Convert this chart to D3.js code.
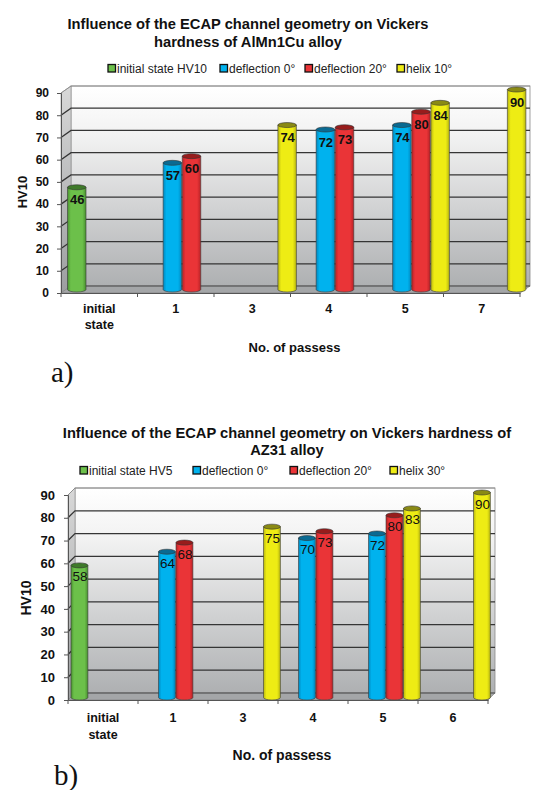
<!DOCTYPE html>
<html><head><meta charset="utf-8">
<script src="https://cdn.jsdelivr.net/npm/d3@7"></script>
<style>
html,body{margin:0;padding:0;background:#fff;}
svg{display:block;font-family:"Liberation Sans",Arial,sans-serif;}
</style></head>
<body><svg id="c" width="559" height="790"></svg>
<script>
// ---------- data ----------
const seriesA = ["initial state HV10", "deflection 0°", "deflection 20°", "helix 10°"];
const catsA = ["initial state", "1", "3", "4", "5", "7"];
const initialA = [46, null, null, null, null, null];
const defl0A   = [null, 57, null, 72, 74, null];
const defl20A  = [null, 60, null, 73, 80, null];
const helixA   = [null, null, 74, null, 84, 90];

const seriesB = ["initial state HV5", "deflection 0°", "deflection 20°", "helix 30°"];
const catsB = ["initial state", "1", "3", "4", "5", "6"];
const initialB = [58, null, null, null, null, null];
const defl0B   = [null, 64, null, 70, 72, null];
const defl20B  = [null, 68, null, 73, 80, null];
const helixB   = [null, null, 75, null, 83, 90];

const yTicks = [0, 10, 20, 30, 40, 50, 60, 70, 80, 90];
const titleA = ["Influence of the ECAP channel geometry on Vickers", "hardness of AlMn1Cu alloy"];
const titleB = ["Influence of the ECAP channel geometry on Vickers hardness of", "AZ31 alloy"];
const yTitle = "HV10";
const xTitle = "No. of passess";

// ---------- styles ----------
const fills = ["#6cc04a", "#00b2ee", "#ea3437", "#eeec14"];
const edges = ["#4a9230", "#0088c0", "#b82226", "#b8b610"];
const tops  = ["#3f7a2a", "#0a6a92", "#981c1c", "#8a8a14"];

const svg = d3.select("#c");
const defs = svg.append("defs");

fills.forEach((c, i) => {
  const g = defs.append("linearGradient").attr("id", "cyl" + i).attr("x1", 0).attr("x2", 1).attr("y1", 0).attr("y2", 0);
  g.append("stop").attr("offset", 0).attr("stop-color", edges[i]);
  g.append("stop").attr("offset", 0.18).attr("stop-color", fills[i]);
  g.append("stop").attr("offset", 0.8).attr("stop-color", fills[i]);
  g.append("stop").attr("offset", 1).attr("stop-color", edges[i]);
});
const wg = defs.append("linearGradient").attr("id", "wall").attr("x1", 0).attr("x2", 0).attr("y1", 0).attr("y2", 1);
wg.append("stop").attr("offset", 0).attr("stop-color", "#ffffff");
wg.append("stop").attr("offset", 0.25).attr("stop-color", "#f2f2f2");
wg.append("stop").attr("offset", 1).attr("stop-color", "#aeb0b2");
const sg = defs.append("linearGradient").attr("id", "side").attr("x1", 0).attr("x2", 0).attr("y1", 0).attr("y2", 1);
sg.append("stop").attr("offset", 0).attr("stop-color", "#d8d8d8");
sg.append("stop").attr("offset", 1).attr("stop-color", "#9c9ea0");

function drawChart(cfg) {
  const g = svg.append("g");
  const values = cfg.values;
  const x = d3.scaleBand().domain(cfg.cats).range([cfg.x0, cfg.x1]).padding(0);
  const xs = d3.scaleBand().domain(cfg.series).range([0, x.bandwidth()]).padding(0);
  const y = d3.scaleLinear().domain([0, 90]).range([cfg.y0, cfg.y90]);
  const dx = cfg.dx, dy = cfg.dy;

  // title
  cfg.title.forEach((t, i) => {
    g.append("text").attr("x", cfg.titleX).attr("y", cfg.titleY + i * cfg.titleLH)
      .attr("text-anchor", "middle").attr("font-weight", "bold").attr("font-size", cfg.titleFS)
      .attr("fill", "#111").text(t);
  });
  // legend
  cfg.series.forEach((s, i) => {
    const lx = cfg.legendX[i];
    g.append("rect").attr("x", lx).attr("y", cfg.legendY - 4.5).attr("width", 7.5).attr("height", 7.5)
      .attr("fill", fills[i]).attr("stroke", "#111").attr("stroke-width", 1.3);
    g.append("text").attr("x", lx + 9).attr("y", cfg.legendY + 4.2).attr("font-size", cfg.legendFS)
      .attr("fill", "#222").text(s);
  });

  const bx0 = cfg.x0 + dx, bx1 = cfg.x1 + dx;
  // back wall
  g.append("rect").attr("x", bx0).attr("y", y(90) - dy).attr("width", bx1 - bx0).attr("height", y(0) - y(90))
    .attr("fill", "url(#wall)").attr("stroke", "#8a8a8a").attr("stroke-width", 0.8);
  // side wall
  g.append("path").attr("d", `M${cfg.x0},${y(90)}L${bx0},${y(90) - dy}L${bx0},${y(0) - dy}L${cfg.x0},${y(0)}Z`)
    .attr("fill", "url(#side)").attr("stroke", "#8a8a8a").attr("stroke-width", 0.6);
  // floor
  g.append("path").attr("d", `M${cfg.x0},${y(0)}L${bx0},${y(0) - dy}L${bx1},${y(0) - dy}L${cfg.x1},${y(0)}Z`)
    .attr("fill", "#a4a6a8").attr("stroke", "#7a7a7a").attr("stroke-width", 0.6);
  // gridlines
  yTicks.forEach(v => {
    if (v === 0) return;
    const top = v === 90;
    g.append("path").attr("d", `M${cfg.x0},${y(v)}L${bx0},${y(v) - dy}L${bx1},${y(v) - dy}`)
      .attr("fill", "none").attr("stroke", top ? "#8a8a8a" : "#353535").attr("stroke-width", top ? 0.9 : 1.3);
  });
  g.append("line").attr("x1", bx0).attr("x2", bx1).attr("y1", y(0) - dy).attr("y2", y(0) - dy)
    .attr("stroke", "#505050").attr("stroke-width", 1);

  // bars
  const ry = cfg.ry;
  cfg.series.forEach((s, si) => {
    values[si].forEach((v, ci) => {
      if (v == null) return;
      const bxL = x(cfg.cats[ci]) + xs(s) + cfg.shiftX + 0.5;
      const w = xs.bandwidth() - 0.6;
      const yt = y(v) - cfg.shiftY;
      const yb = y(0) - cfg.shiftY;
      const bg = g.append("g");
      bg.append("path")
        .attr("d", `M${bxL},${yt}L${bxL},${yb}A${w / 2},${ry} 0 0 0 ${bxL + w},${yb}L${bxL + w},${yt}Z`)
        .attr("fill", `url(#cyl${si})`).attr("stroke", "#3a3a3a").attr("stroke-width", 0.6);
      bg.append("ellipse").attr("cx", bxL + w / 2).attr("cy", yt).attr("rx", w / 2).attr("ry", ry)
        .attr("fill", tops[si]).attr("stroke", "#333").attr("stroke-width", 0.6);
      bg.append("text").attr("x", bxL + w / 2 + 0.5).attr("y", yt + cfg.labelDY)
        .attr("text-anchor", "middle").attr("font-size", cfg.labelFS).attr("font-weight", cfg.labelFW)
        .attr("fill", "#111").text(v);
    });
  });

  // y axis
  const ya = d3.axisLeft(y).tickValues(yTicks).tickSize(4).tickPadding(cfg.tickPad);
  const yg = g.append("g").attr("transform", `translate(${cfg.x0},0)`).call(ya);
  yg.select(".domain").attr("stroke", "#555").attr("stroke-width", 1);
  yg.selectAll(".tick line").attr("stroke", "#555");
  yg.selectAll(".tick text").attr("font-size", cfg.tickFS).attr("font-weight", "bold")
    .attr("font-family", "Liberation Sans, Arial, sans-serif").attr("fill", "#111");

  // x axis
  const xa = d3.axisBottom(x).tickSize(0).tickFormat("");
  const xg = g.append("g").attr("transform", `translate(0,${y(0)})`).call(xa);
  xg.select(".domain").attr("stroke", "#555").attr("stroke-width", 1);
  // boundary ticks
  const bounds = cfg.cats.map(c => x(c)).concat([cfg.x1]);
  g.selectAll(null).data(bounds).enter().append("line")
    .attr("x1", d => d).attr("x2", d => d).attr("y1", y(0)).attr("y2", y(0) + 4)
    .attr("stroke", "#555");
  cfg.cats.forEach(c => {
    const parts = c === "initial state" ? ["initial", "state"] : [c];
    parts.forEach((p, i) => {
      g.append("text").attr("x", x(c) + x.bandwidth() / 2).attr("y", cfg.catY + i * cfg.catLH)
        .attr("text-anchor", "middle").attr("font-size", cfg.catFS).attr("font-weight", "bold")
        .attr("fill", "#111").text(p);
    });
  });
  g.append("text").attr("x", (cfg.x0 + cfg.x1) / 2 + 4).attr("y", cfg.xTitleY).attr("text-anchor", "middle")
    .attr("font-size", cfg.xTitleFS).attr("font-weight", "bold").attr("fill", "#111").text(xTitle);
  g.append("text").attr("transform", `translate(${cfg.yTitleX},${cfg.yTitleY}) rotate(-90)`)
    .attr("text-anchor", "middle").attr("font-size", cfg.yTitleFS).attr("font-weight", "bold")
    .attr("fill", "#111").text(yTitle);
  g.append("text").attr("x", cfg.panelX).attr("y", cfg.panelY)
    .attr("font-family", "Liberation Serif, Times New Roman, serif").attr("font-size", 29)
    .attr("fill", "#111").text(cfg.panel);
}

drawChart({
  cats: catsA, series: seriesA, values: [initialA, defl0A, defl20A, helixA],
  x0: 61, x1: 520, y0: 293, y90: 93, dx: 10, dy: 7, shiftX: 6, shiftY: 3.5, ry: 2.5,
  title: titleA, titleX: 248, titleY: 29, titleLH: 18, titleFS: 14.7,
  legendX: [108, 220, 305, 397], legendY: 69, legendFS: 12,
  labelFS: 13, labelFW: "bold", labelDY: 17,
  tickFS: 12, tickPad: 8, catY: 313, catLH: 16, catFS: 12.5,
  xTitleY: 352, xTitleFS: 13, yTitleX: 27, yTitleY: 192, yTitleFS: 13,
  panel: "a)", panelX: 51, panelY: 382
});
drawChart({
  cats: catsB, series: seriesB, values: [initialB, defl0B, defl20B, helixB],
  x0: 68, x1: 488, y0: 700, y90: 495, dx: 7, dy: 7, shiftX: 2.5, shiftY: 2.5, ry: 2.5,
  title: titleB, titleX: 287, titleY: 438, titleLH: 17, titleFS: 14.7,
  legendX: [80, 193, 290, 390], legendY: 471, legendFS: 12,
  labelFS: 13.5, labelFW: "normal", labelDY: 16,
  tickFS: 13, tickPad: 9, catY: 722, catLH: 17, catFS: 12.5,
  xTitleY: 760, xTitleFS: 14, yTitleX: 31, yTitleY: 598, yTitleFS: 14,
  panel: "b)", panelX: 54, panelY: 785
});
</script></body></html>
